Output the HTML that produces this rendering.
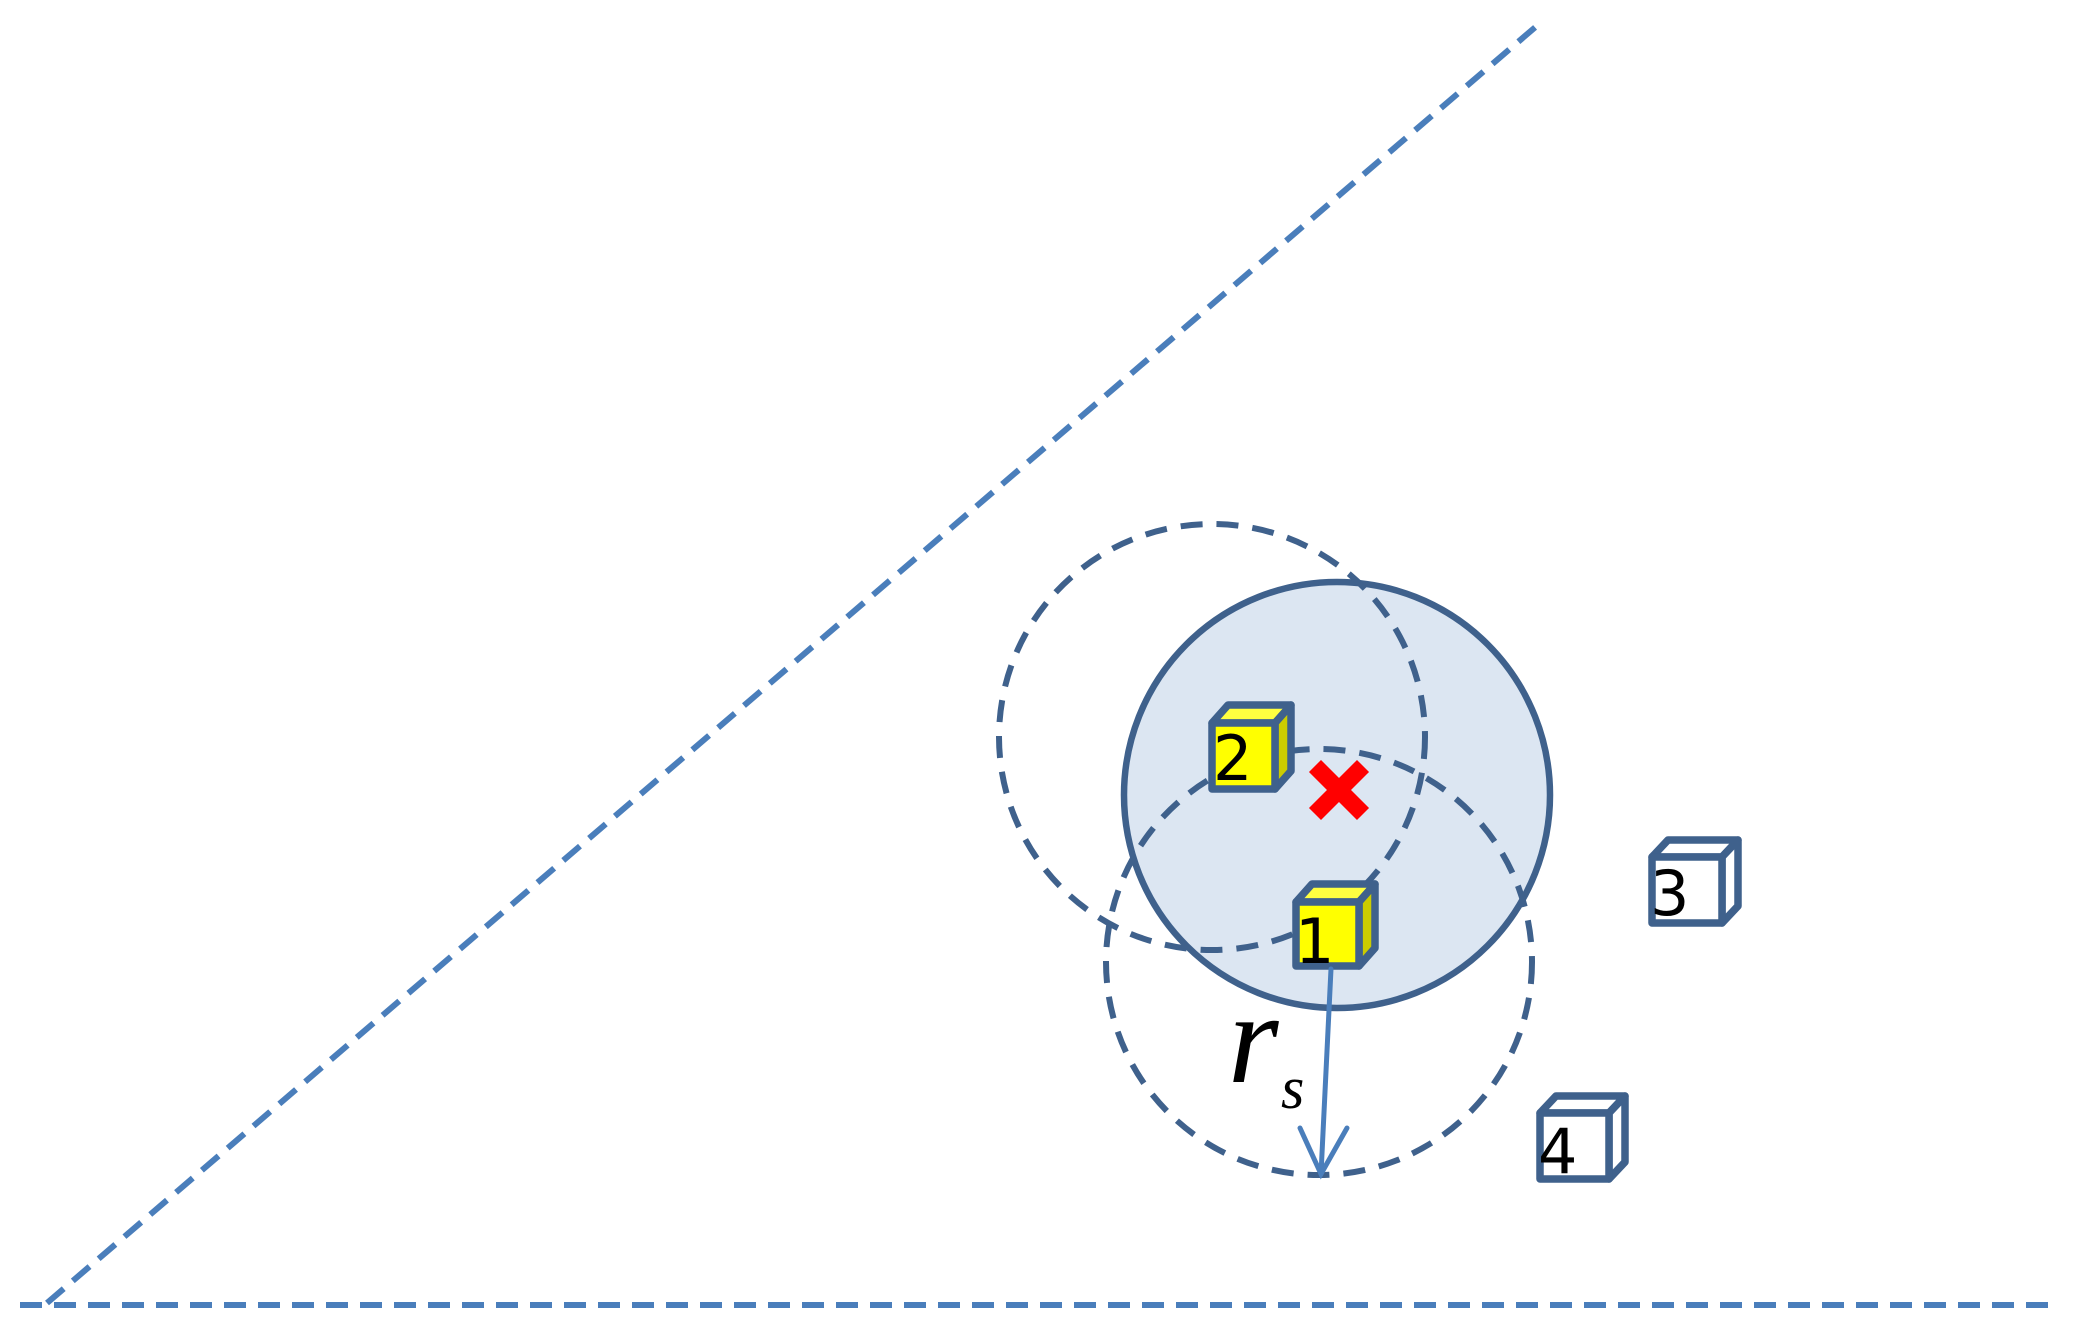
<!DOCTYPE html>
<html><head><meta charset="utf-8"><style>html,body{margin:0;padding:0;background:#fff}svg{display:block}</style></head>
<body>
<svg width="2089" height="1342" viewBox="0 0 2089 1342" xmlns="http://www.w3.org/2000/svg">
<g fill="none" stroke="#4a7ebb" stroke-width="6" stroke-dasharray="22 12">
<line x1="47" y1="1303" x2="1539" y2="24"/>
<line x1="20" y1="1305" x2="2058" y2="1305"/>
</g>
<circle cx="1337" cy="795" r="213" fill="#dce6f2" stroke="#3f618c" stroke-width="6.5"/>
<g fill="none" stroke="#3f618c" stroke-width="6" stroke-dasharray="22 14">
<circle cx="1212" cy="737" r="213"/>
<circle cx="1319" cy="962" r="213"/>
</g>
<g stroke="#ff0000" stroke-width="17" stroke-linecap="square">
<line x1="1321" y1="772" x2="1357" y2="808"/>
<line x1="1357" y1="772" x2="1321" y2="808"/>
</g>
<g stroke="#3f618c" stroke-width="7.5" stroke-linejoin="round">
<polygon points="1212,723 1228,705 1291,705 1275,723" fill="#ffff40"/>
<polygon points="1275,723 1291,705 1291,771 1275,789" fill="#cccc00"/>
<rect x="1212" y="723" width="63" height="66" fill="#ffff00"/>
<polygon points="1296,902 1312,884 1375,884 1359,902" fill="#ffff40"/>
<polygon points="1359,902 1375,884 1375,948 1359,966" fill="#cccc00"/>
<rect x="1296" y="902" width="63" height="64" fill="#ffff00"/>
<polygon points="1652,857 1668,840 1738,840 1722,857" fill="#fff"/>
<polygon points="1722,857 1738,840 1738,906 1722,923" fill="#fff"/>
<rect x="1652" y="857" width="70" height="66" fill="#fff"/>
<polygon points="1540,1113 1556,1096 1625,1096 1609,1113" fill="#fff"/>
<polygon points="1609,1113 1625,1096 1625,1162 1609,1179" fill="#fff"/>
<rect x="1540" y="1113" width="69" height="66" fill="#fff"/>
</g>
<g font-family="DejaVu Sans, sans-serif" font-size="62" fill="#000">
<text x="1213" y="780">2</text>
<text x="1295" y="963">1</text>
<text x="1650" y="915">3</text>
<text x="1538" y="1173">4</text>
</g>
<g stroke="#4a7ebb" stroke-width="5" fill="none" stroke-linecap="round">
<line x1="1331" y1="969" x2="1321" y2="1174"/>
<polyline points="1300,1128 1321,1174 1347,1128"/>
</g>
<text x="1228" y="1082" font-family="Liberation Serif, serif" font-style="italic" font-size="130" fill="#000">r</text>
<text x="1281" y="1108" font-family="Liberation Serif, serif" font-style="italic" font-size="60" fill="#000">s</text>
</svg>
</body></html>
